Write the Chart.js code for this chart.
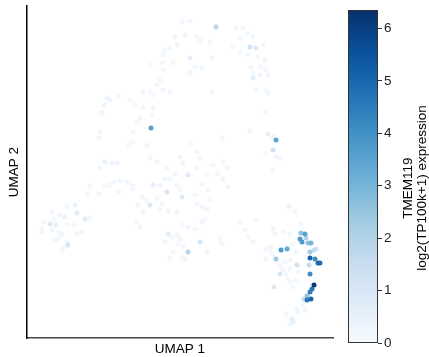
<!DOCTYPE html>
<html>
<head>
<meta charset="utf-8">
<script src="https://cdn.jsdelivr.net/npm/chart.js@4.4.1/dist/chart.umd.min.js"></script>
<style>
  body { margin: 0; background: #fff; }
  #main { position: absolute; left: 0; top: 0; }
  #cbar { position: absolute; left: 340px; top: 0; }
</style>
</head>
<body>
<canvas id="main" width="340" height="357"></canvas>
<canvas id="cbar" width="89" height="357"></canvas>
<script>
// UMAP coordinates of each cell and its TMEM119 expression
const umap1 = [
  15.5, 16.3, 18.9, 14.8, 15.8, 17.0, 17.3, 18.3, 15.0, 14.3, 13.8, 13.6, 16.3, 14.6, 13.5, 12.3, 16.8, 17.5, 16.3, 18.5,
  13.6, 13.3, 13.0, 11.6, 12.3, 13.6, 14.3, 18.5, 12.6, 10.8, 11.6, 12.6, 11.3, 12.5, 11.0, 12.4, 10.6, 10.6, 16.3, 12.0,
  19.5, 17.0, 15.3, 12.3, 13.0, 15.6, 18.6, 17.3, 19.6, 14.0, 17.0, 20.0,
  8.0, 7.7, 7.5, 9.2, 8.3, 7.3, 7.2, 10.2, 7.8, 8.5, 9.0, 7.3, 10.3,
  20.9, 21.6, 22.1, 22.6, 21.3, 22.3, 22.9, 23.6, 20.6, 21.3, 22.1, 23.1, 23.8, 22.4, 23.4, 23.9, 22.6, 23.3, 24.1, 22.6,
  22.9, 23.9, 24.1, 23.8, 22.3, 24.1, 24.6, 24.9, 24.6, 23.9, 24.9, 25.3, 24.6,
  6.3, 6.0, 7.2, 7.8, 8.3, 8.7, 9.3, 10.0, 9.2, 4.0, 4.8, 5.0, 5.8, 6.3, 2.5, 3.3, 2.7, 3.8, 1.7, 2.3,
  2.9, 1.5, 4.0, 4.7, 2.5, 3.2, 1.5, 5.0, 5.5, 3.3, 3.0, 4.0, 3.5, 4.1, 3.7, 3.5, 2.8,
  16.1, 12.6, 14.0, 15.5, 12.3, 11.6, 13.5, 14.1, 15.0, 11.0, 11.3, 14.1, 17.3, 16.1, 15.5, 16.1, 16.8, 17.5, 17.8, 15.0,
  15.3, 14.5, 13.8, 15.1, 15.6, 14.6, 14.3, 15.5, 15.8, 18.0, 19.3, 19.5, 10.5, 10.6, 11.5, 12.0, 13.0, 11.1, 13.3, 17.5,
  18.1, 18.3, 17.0, 17.5, 18.0, 16.8, 15.0, 15.3, 14.3, 14.8, 18.0, 19.1, 19.6, 20.1, 13.8, 13.3,
  26.2, 26.8, 21.3, 22.9, 21.8, 22.1, 22.6, 24.6, 24.8, 25.6, 26.3, 27.4, 23.9, 24.4, 26.1, 26.6, 26.9, 24.3, 23.9, 24.6,
  26.1, 26.4, 26.6, 25.9, 26.3, 25.6, 27.1, 26.9, 25.3, 25.8, 26.3, 26.9, 27.1, 26.4, 25.9, 26.6, 26.5, 27.8, 26.3, 27.6,
  24.7, 25.3, 27.0, 28.2, 28.9, 28.7, 27.7, 27.9, 28.3, 24.9, 27.4, 28.1, 28.0, 28.4, 26.0, 27.8, 25.4, 27.3, 27.5, 28.8,
  28.3, 28.3, 28.5, 28.0, 29.3, 29.1, 28.4, 28.3, 28.7
];
const umap2 = [
  31.6, 31.7, 31.1, 30.1, 30.3, 30.1, 29.8, 29.6, 29.3, 29.0, 28.8, 28.3, 28.0, 27.5, 27.5, 27.3, 27.1, 27.0, 26.5, 28.0,
  26.8, 25.8, 25.3, 24.6, 24.6, 24.8, 24.6, 24.6, 24.3, 23.3, 23.1, 23.0, 22.0, 22.3, 21.6, 21.0, 20.6, 19.6, 19.5, 19.3,
  20.0, 18.6, 18.1, 18.0, 17.6, 17.5, 17.3, 18.0, 17.6, 17.0, 17.0, 17.0,
  24.0, 23.3, 22.5, 24.2, 23.8, 20.6, 20.0, 19.3, 17.6, 17.5, 17.5, 17.0, 23.8,
  31.0, 31.0, 30.5, 30.1, 30.0, 29.1, 29.0, 29.3, 29.1, 28.6, 28.3, 28.1, 27.8, 27.1, 27.1, 26.8, 26.5, 26.3, 26.3, 26.0,
  24.8, 24.8, 24.5, 22.6, 20.7, 20.4, 20.1, 19.8, 18.8, 18.5, 18.1, 18.0, 16.8,
  15.2, 14.4, 14.4, 15.2, 15.3, 15.6, 15.7, 15.6, 14.6, 13.1, 13.3, 12.5, 11.9, 12.0, 12.6, 12.3, 11.9, 12.1, 11.6, 11.4,
  11.3, 10.9, 11.4, 11.3, 10.8, 10.6, 10.6, 10.4, 10.6, 10.3, 9.9, 9.6, 10.4, 9.3, 9.1, 8.8, 9.8,
  16.3, 15.3, 14.6, 14.1, 13.3, 12.6, 13.4, 12.7, 12.6, 11.6, 11.1, 10.4, 9.6, 8.6, 11.3, 11.1, 10.9, 11.6, 11.9, 10.3,
  9.9, 10.1, 9.6, 9.4, 9.1, 8.6, 8.0, 8.0, 7.9, 8.6, 9.9, 9.4, 15.3, 14.9, 14.1, 13.8, 13.9, 13.3, 12.9, 15.4,
  14.8, 13.9, 13.4, 13.1, 12.9, 14.3, 15.3, 14.8, 15.9, 16.4, 16.3, 16.4, 15.9, 15.1, 15.9, 15.3,
  13.2, 12.7, 11.6, 11.8, 10.8, 10.1, 9.6, 10.9, 10.4, 10.6, 10.4, 11.4, 8.9, 9.1, 9.1, 9.4, 8.6, 8.8, 7.9, 8.4,
  5.9, 5.6, 5.1, 6.4, 6.9, 6.8, 6.6, 5.8, 7.3, 7.6, 7.8, 2.9, 2.6, 1.9, 2.4, 1.6, 1.9, 2.8, 1.4, 3.3,
  5.1, 6.4, 7.3, 7.3, 8.9, 8.8, 3.9, 10.0, 8.6, 7.9, 10.5, 9.5, 4.2, 9.5, 8.9, 10.4, 8.8, 9.9, 9.6, 7.9,
  6.4, 4.6, 4.9, 3.8, 7.5, 7.5, 3.9, 8.0, 5.3
];
const expr = [
  0.2, 0.2, 1.8, 0.2, 0.2, 0.2, 0.2, 0.2, 0.2, 0.2, 0.2, 0.2, 0.6, 0.2, 0.2, 0.2, 0.2, 0.2, 0.3, 0.2,
  0.2, 0.2, 0.2, 0.2, 0.2, 0.2, 0.2, 0.2, 0.2, 0.2, 0.2, 0.2, 0.2, 0.2, 0.2, 3.6, 0.2, 0.2, 0.2, 0.2,
  0.2, 0.2, 0.2, 0.2, 0.2, 0.2, 0.2, 0.2, 0.2, 0.2, 0.2, 0.2,
  0.3, 0.3, 0.3, 0.2, 0.3, 0.2, 0.2, 0.2, 0.5, 0.3, 0.3, 0.2, 0.2,
  0.2, 0.2, 0.2, 0.2, 0.2, 1.2, 0.9, 0.2, 0.2, 0.2, 0.2, 0.2, 0.2, 0.2, 0.2, 0.2, 0.2, 0.2, 0.2, 0.6,
  0.2, 0.2, 0.2, 0.2, 0.2, 0.5, 0.4, 3.4, 1.3, 0.2, 0.2, 0.2, 0.2,
  0.2, 0.2, 0.2, 0.2, 0.2, 0.2, 0.2, 0.2, 0.2, 0.2, 0.4, 0.8, 0.8, 0.2, 0.2, 0.2, 0.2, 0.4, 0.2, 0.8,
  0.6, 0.2, 0.2, 0.2, 0.2, 0.2, 0.2, 0.2, 0.2, 0.2, 0.2, 0.2, 0.2, 1.1, 0.2, 0.2, 0.2,
  0.8, 0.6, 1.0, 0.8, 0.9, 0.2, 0.2, 0.2, 0.2, 0.2, 0.2, 0.6, 1.0, 1.9, 0.2, 0.2, 0.2, 0.2, 0.2, 0.2,
  0.2, 0.2, 0.2, 0.2, 0.2, 0.2, 0.2, 0.2, 0.2, 0.2, 0.2, 0.2, 0.2, 0.2, 0.2, 0.2, 0.2, 0.2, 0.2, 0.2,
  0.2, 0.2, 0.2, 0.2, 0.2, 0.2, 0.2, 0.2, 0.2, 0.2, 0.2, 0.2, 0.2, 0.2, 0.2, 0.2,
  0.4, 0.2, 0.2, 0.2, 0.2, 0.2, 0.2, 0.2, 0.2, 0.2, 0.2, 0.2, 0.2, 0.2, 0.2, 0.2, 0.2, 0.2, 0.2, 0.2,
  0.2, 0.2, 0.2, 0.2, 0.2, 0.2, 0.2, 0.2, 0.2, 0.2, 0.2, 0.2, 0.2, 0.2, 0.2, 0.5, 0.7, 0.2, 0.2, 0.2,
  0.8, 1.0, 1.2, 1.6, 1.0, 1.5, 1.5, 2.0, 2.3, 2.4, 2.6, 2.6, 2.6, 3.0, 3.3, 3.5, 3.7, 3.7, 3.8, 4.1,
  4.1, 4.4, 4.6, 4.6, 4.8, 5.0, 5.0, 5.1, 6.1
];

const colorbarTicks = [0, 1, 2, 3, 4, 5, 6];
const exprMax = 6.35;
const geneName = "TMEM119";
const unitLabel = "log2(TP100k+1) expression";

const FONT = "'Liberation Sans', Arial, sans-serif";
const blues = ["#f7fbff", "#deebf7", "#c6dbef", "#9ecae1", "#6baed6",
               "#4292c6", "#2171b5", "#08519c", "#08306b"];

function hexToRgb(h) {
  return [1, 3, 5].map((i) => parseInt(h.slice(i, i + 2), 16));
}

function bluesColor(v) {
  const t = Math.max(0, Math.min(1, v / exprMax)) * (blues.length - 1);
  const i = Math.min(Math.floor(t), blues.length - 2);
  const f = t - i;
  const a = hexToRgb(blues[i]);
  const b = hexToRgb(blues[i + 1]);
  const c = a.map((x, k) => Math.round(x + (b[k] - x) * f));
  return `rgb(${c[0]},${c[1]},${c[2]})`;
}

// draw low expression first so bright cells sit on top
const order = expr.map((_, i) => i).sort((a, b) => expr[a] - expr[b]);
const points = order.map((i) => ({ x: umap1[i], y: umap2[i], v: expr[i] }));

const axisTitles = {
  id: "axisTitles",
  afterDraw(chart) {
    const { ctx, chartArea } = chart;
    ctx.save();
    ctx.fillStyle = "#000";
    ctx.font = `13.5px ${FONT}`;
    ctx.textAlign = "center";
    ctx.textBaseline = "middle";
    ctx.fillText("UMAP 1", (chartArea.left + chartArea.right) / 2, 349);
    ctx.translate(14, (chartArea.top + chartArea.bottom) / 2);
    ctx.rotate(-Math.PI / 2);
    ctx.fillText("UMAP 2", 0, 0);
    ctx.restore();
  },
};

new Chart(document.getElementById("main"), {
  type: "scatter",
  data: {
    datasets: [
      {
        data: points,
        pointRadius: 2.5,
        pointHoverRadius: 2.5,
        borderWidth: 0,
        backgroundColor: (c) => (c.raw ? bluesColor(c.raw.v) : blues[0]),
      },
    ],
  },
  options: {
    responsive: false,
    animation: false,
    layout: { padding: { left: 27, top: 6, right: 7, bottom: 19 } },
    scales: {
      x: {
        min: 0,
        max: 30.6,
        ticks: { display: false },
        grid: { display: false, drawTicks: false },
        border: { color: "#444", width: 1.5 },
        afterFit: (s) => { s.height = 0; },
      },
      y: {
        min: 0,
        max: 33.2,
        ticks: { display: false },
        grid: { display: false, drawTicks: false },
        border: { color: "#000", width: 1.5 },
        afterFit: (s) => { s.width = 0; },
      },
    },
    plugins: { legend: { display: false }, tooltip: { enabled: false } },
  },
  plugins: [axisTitles],
});

const colorbarFill = {
  id: "colorbarFill",
  beforeDatasetsDraw(chart) {
    const { ctx, chartArea: a } = chart;
    const g = ctx.createLinearGradient(0, a.bottom, 0, a.top);
    blues.forEach((c, i) => g.addColorStop(i / (blues.length - 1), c));
    ctx.save();
    ctx.fillStyle = g;
    ctx.fillRect(a.left, a.top, a.right - a.left, a.bottom - a.top);
    ctx.strokeStyle = "#333";
    ctx.lineWidth = 1;
    ctx.strokeRect(a.left + 0.5, a.top + 0.5, a.right - a.left - 1, a.bottom - a.top - 1);
    ctx.restore();
  },
  afterDraw(chart) {
    const { ctx } = chart;
    ctx.save();
    ctx.fillStyle = "#000";
    ctx.font = `13.5px ${FONT}`;
    ctx.textAlign = "center";
    ctx.textBaseline = "middle";
    ctx.translate(68, 188);
    ctx.rotate(-Math.PI / 2);
    ctx.fillText(geneName, 0, 0);
    ctx.fillText(unitLabel, 0, 14);
    ctx.restore();
  },
};

new Chart(document.getElementById("cbar"), {
  type: "scatter",
  data: { datasets: [] },
  options: {
    responsive: false,
    animation: false,
    layout: { padding: { left: 8, top: 6, right: 31, bottom: 14 } },
    scales: {
      x: { display: false },
      y: {
        position: "right",
        min: 0,
        max: exprMax,
        afterBuildTicks: (s) => {
          s.ticks = colorbarTicks.map((v) => ({ value: v }));
        },
        ticks: { color: "#222", font: { size: 13.5, family: FONT }, padding: 2 },
        grid: { drawOnChartArea: false, drawTicks: true, tickLength: 4, color: "#333" },
        border: { display: false },
        afterFit: (s) => { s.width = 20; },
      },
    },
    plugins: { legend: { display: false }, tooltip: { enabled: false } },
  },
  plugins: [colorbarFill],
});
</script>
</body>
</html>
